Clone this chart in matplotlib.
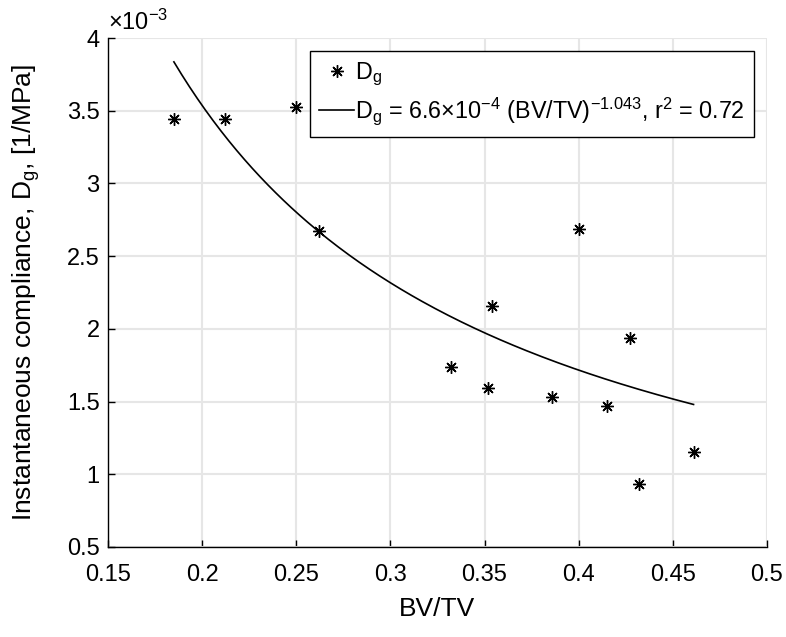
import numpy as np
from matplotlib import pyplot as plt
from matplotlib.ticker import FuncFormatter

plt.rcParams['font.family'] = ['Liberation Sans', 'DejaVu Sans']
plt.rcParams['mathtext.default'] = 'regular'

# data (BV/TV vs instantaneous compliance, 1/MPa)
bvtv = [0.185, 0.212, 0.250, 0.262, 0.332, 0.352, 0.354, 0.386, 0.400, 0.415, 0.427, 0.432, 0.461]
dg = [3.44e-3, 3.44e-3, 3.525e-3, 2.675e-3, 1.74e-3, 1.59e-3, 2.16e-3, 1.53e-3, 2.69e-3, 1.47e-3, 1.935e-3, 0.935e-3, 1.155e-3]

# power law fit from the legend
fit_a = 6.6e-4
fit_b = -1.043

fig = plt.figure(figsize=(7.86, 6.37), dpi=100)
ax = fig.add_axes([0.1374, 0.1413, 0.8384, 0.7990])

xs = np.linspace(min(bvtv), max(bvtv), 200)
ax.plot(bvtv, dg, linestyle='none', marker=(8, 2, 0), markersize=9, markeredgewidth=1.0,
        color='black', label=r'D$_g$')
ax.plot(xs, fit_a * xs ** fit_b, color='black', linewidth=1.2,
        label=r'D$_g$ = 6.6$\times$10$^{-4}$ (BV/TV)$^{-1.043}$, r$^2$ = 0.72')

ax.set_xlim(0.15, 0.5)
ax.set_ylim(0.5e-3, 4e-3)
ax.set_xticks(np.arange(0.15, 0.501, 0.05))
ax.set_yticks(np.arange(0.5e-3, 4.001e-3, 0.5e-3))
ax.xaxis.set_major_formatter(FuncFormatter(lambda v, p: '%g' % round(v, 3)))
ax.yaxis.set_major_formatter(FuncFormatter(lambda v, p: '%g' % round(v * 1e3, 3)))
ax.tick_params(direction='in', labelsize=17, length=5, width=1, top=False, right=False)
ax.tick_params(axis='x', pad=12)
ax.tick_params(axis='y', pad=6)
ax.grid(True, color='#e6e6e6', linewidth=1.5)
ax.set_axisbelow(True)
for s in ['top', 'right']:
    ax.spines[s].set_visible(False)
for s in ['left', 'bottom']:
    ax.spines[s].set_linewidth(1.0)

ax.text(0.0, 1.006, r'$\times$10$^{-3}$', transform=ax.transAxes, fontsize=17, ha='left', va='bottom')

ax.set_xlabel('BV/TV', fontsize=19, labelpad=8)
ax.set_ylabel(r'Instantaneous compliance, D$_g$, [1/MPa]', fontsize=19, labelpad=18)

leg = ax.legend(loc='upper right', fontsize=16.8, frameon=True, fancybox=False, edgecolor='black',
                framealpha=1, handlelength=1.5, handletextpad=0.05, borderpad=0.4,
                borderaxespad=0.55, labelspacing=0.35)
leg.get_frame().set_linewidth(1.0)

plt.savefig('out.png', dpi=100)
